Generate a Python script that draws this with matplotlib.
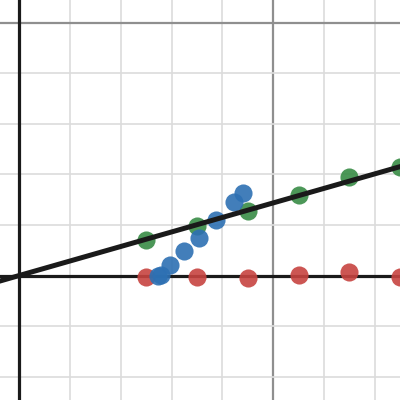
import matplotlib
matplotlib.use("Agg")
import matplotlib.pyplot as plt
import numpy as np

# data
green_x = [2.5, 3.5, 4.5, 5.5, 6.5, 7.5]
green_y = [0.71, 0.97, 1.28, 1.59, 1.95, 2.15]

red_x = [2.5, 3.5, 4.5, 5.5, 6.5, 7.5]
red_y = [-0.02, -0.02, -0.04, 0.01, 0.07, -0.02]

blue_x = [2.73, 2.79, 2.97, 3.25, 3.54, 3.87, 4.22, 4.41]
blue_y = [0.0, 0.02, 0.20, 0.48, 0.74, 1.09, 1.45, 1.64]

slope = 0.287

xmin, xmax = -0.378, 7.496
ymin, ymax = -2.46, 5.445

fig = plt.figure(figsize=(4, 4), dpi=100)
ax = fig.add_axes([0, 0, 1, 1])
ax.set_xlim(xmin, xmax)
ax.set_ylim(ymin, ymax)
for s in ax.spines.values():
    s.set_visible(False)
ax.set_xticks([])
ax.set_yticks([])

# grid: light every unit, darker every 5
for v in range(-2, 9):
    if v == 0:
        continue
    major = v % 5 == 0
    ax.axvline(v, color="#8f8f8f" if major else "#dcdcdc", lw=1.6 if major else 1.2, zorder=0)
for v in range(-3, 6):
    if v == 0:
        continue
    major = v % 5 == 0
    ax.axhline(v, color="#8f8f8f" if major else "#dcdcdc", lw=1.6 if major else 1.2, zorder=0)

ax.axvline(0, color="#1a1a1a", lw=2.3, zorder=1)
ax.axhline(0, color="#1a1a1a", lw=2.3, zorder=1)

xs = np.array([xmin, xmax + 0.5])
ax.plot(xs, slope * xs, color="#1a1a1a", lw=3.6, zorder=4)

size = 170
ax.scatter(red_x, red_y, s=size, color="#c74440", alpha=0.9, lw=0, zorder=3)
ax.scatter(green_x, green_y, s=size, color="#388c46", alpha=0.9, lw=0, zorder=3)
ax.scatter(blue_x, blue_y, s=size, color="#2d70b3", alpha=0.9, lw=0, zorder=3)

fig.savefig("out.png", dpi=100)
